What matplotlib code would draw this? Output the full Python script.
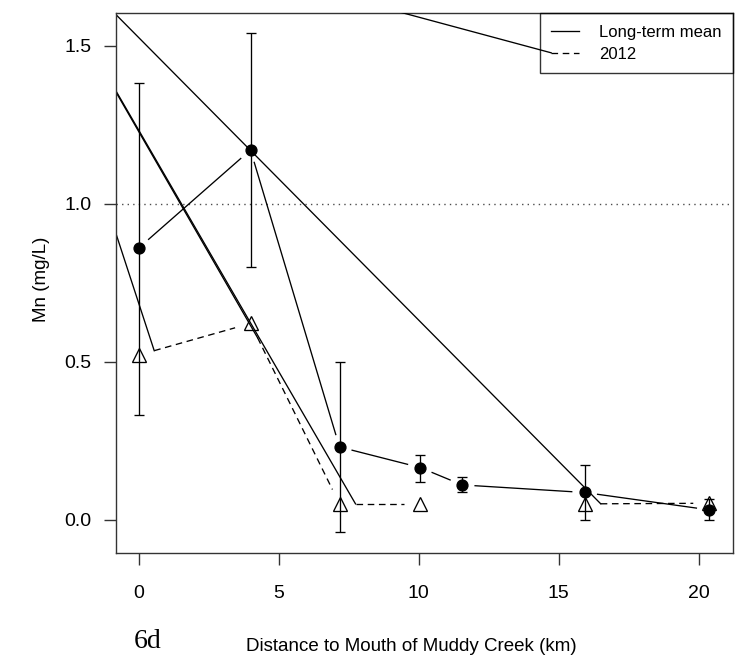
import numpy as np
import matplotlib.pyplot as plt
from matplotlib.lines import Line2D

plt.rcParams['font.family'] = ['Liberation Sans', 'DejaVu Sans']

# Mn along Muddy Creek, distance to mouth in km
dist = [0.0, 3.99, 7.17, 10.05, 11.55, 15.93, 20.38]
mn_mean = [0.861, 1.171, 0.231, 0.166, 0.111, 0.087, 0.032]
mn_upper = [1.384, 1.540, 0.501, 0.206, 0.137, 0.174, 0.066]
mn_lower = [0.331, 0.802, -0.038, 0.120, 0.090, 0.000, 0.000]
mn_2012 = [0.522, 0.622, 0.051, 0.051, np.nan, 0.051, 0.053]
mn_limit = 1.0
# the broken pdf path: every dashed piece starts from this stray point
ghost_x, ghost_y = -4.63, 1.94

xticks = [0, 5, 10, 15, 20]
yticks = [0.0, 0.5, 1.0, 1.5]
ytick_labels = ['0.0', '0.5', '1.0', '1.5']
labels = ['Long-term mean', '2012']

fig = plt.figure(figsize=(7.43, 6.56), dpi=100)
ax = fig.add_axes([0.1561, 0.1566, 0.8300, 0.8231])
ax.set_xlim(-0.816, 21.216)
ax.set_ylim(-0.1053, 1.6033)

LW = 0.95
DASH = (5, 3.5)


def gapped(xs, ys, gap):
    # R type="b": segments stop short of the points
    segs = []
    for i in range(len(xs) - 1):
        if np.isnan(ys[i]) or np.isnan(ys[i + 1]):
            continue
        p = ax.transData.transform([(xs[i], ys[i]), (xs[i + 1], ys[i + 1])])
        d = p[1] - p[0]
        u = d / np.hypot(*d)
        q = np.array([p[0] + u * gap, p[1] - u * gap])
        segs.append(ax.transData.inverted().transform(q))
    return segs


ax.axhline(mn_limit, color='0.3', lw=1.0, dashes=(1, 3))

for s in gapped(dist, mn_mean, 13):
    ax.plot(s[:, 0], s[:, 1], color='black', lw=LW)

dashed = gapped(dist, mn_2012, 16)
for s in dashed:
    ax.plot(s[:, 0], s[:, 1], color='black', lw=LW, dashes=DASH)
    ax.plot([ghost_x, s[0, 0]], [ghost_y, s[0, 1]], color='black', lw=LW)

mean = np.array(mn_mean)
ax.errorbar(dist, mean, yerr=[mean - np.array(mn_lower), np.array(mn_upper) - mean],
            fmt='none', ecolor='black', elinewidth=LW, capsize=3.6, capthick=LW)
ax.plot(dist, mn_mean, 'o', color='black', ms=7.8, ls='none')
ax.plot(dist, mn_2012, '^', mfc='none', mec='black', mew=LW, ms=9.5, ls='none')

ax.set_xticks(xticks)
ax.set_yticks(yticks)
ax.set_yticklabels(ytick_labels)
ax.tick_params(length=8.6, width=1, labelsize=14, color='#333333')
ax.tick_params(axis='x', pad=14.5)
ax.tick_params(axis='y', pad=9)
for sp in ax.spines.values():
    sp.set_color('#333333')
    sp.set_linewidth(1)

handles = [Line2D([], [], color='black', lw=LW),
           Line2D([], [], color='black', lw=LW, dashes=DASH)]
leg = ax.legend(handles, labels, loc='upper right', borderaxespad=0, fancybox=False,
                edgecolor='black', facecolor='none', fontsize=12, handlelength=1.66,
                handletextpad=1.2, borderpad=0.68, labelspacing=0.42)
leg.get_frame().set_linewidth(1)

fig.canvas.draw()
ln = leg.get_lines()[1]
start = ln.get_transform().transform(np.column_stack(ln.get_data()))[0]
sx, sy = ax.transData.inverted().transform(start)
ax.plot([ghost_x, sx], [ghost_y, sy], color='black', lw=LW, zorder=6)

fig.text(411.5 / 743, 1 - 650.7 / 656, 'Distance to Mouth of Muddy Creek (km)',
         ha='center', va='baseline', fontsize=13.5)
fig.text(41 / 743, 1 - 279 / 656, 'Mn (mg/L)', rotation=90, ha='center', va='center',
         fontsize=13.5)
fig.text(148 / 743, 1 - 648.5 / 656, '6d', ha='center', va='baseline', fontsize=20,
         family=['Liberation Serif', 'DejaVu Serif'])

fig.savefig('out.png', dpi=100)
